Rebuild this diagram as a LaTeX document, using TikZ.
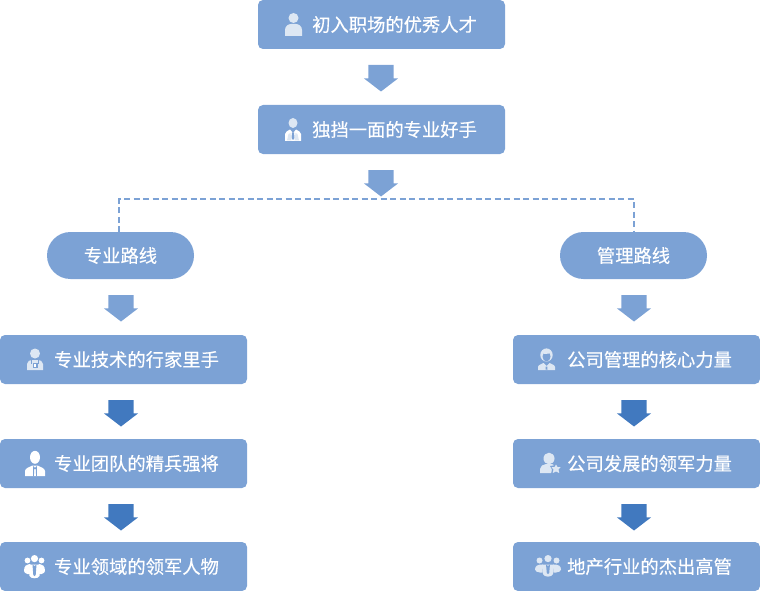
\documentclass[tikz,border=0pt]{standalone}
\usepackage{fontspec}
\setmainfont{Noto Sans CJK SC}[RawFeature={embolden=0.35}]
\usetikzlibrary{shapes.arrows}
\definecolor{boxblue}{HTML}{7CA2D5}
\definecolor{deepblue}{HTML}{4179BF}
\definecolor{iconlight}{HTML}{DDE7F3}
\tikzset{
  card/.style={fill=boxblue,draw=none,rounded corners=5pt,minimum width=247pt,minimum height=49pt,inner sep=0pt,outer sep=0pt},
  pill/.style={fill=boxblue,draw=none,rounded corners=23.5pt,minimum width=147pt,minimum height=47pt,inner sep=0pt,outer sep=0pt,text=white,font=\fontsize{18.3pt}{20pt}\selectfont},
  cardtext/.style={text=white,anchor=west,inner sep=0pt,font=\fontsize{18.3pt}{20pt}\selectfont},
  blockarrow/.style={single arrow,draw=none,fill=#1,anchor=tail,rotate=-90,minimum height=26.5pt,minimum width=34pt,single arrow head extend=4.5pt,single arrow tip angle=105,inner xsep=0pt,inner ysep=12.5pt,outer sep=0pt},
  link/.style={draw=boxblue,line width=1.6pt,dash pattern=on 6pt off 3.5pt},
  ic/.style={fill=iconlight,draw=none},
  iw/.style={fill=white,draw=none},
  cut/.style={fill=boxblue,draw=none}
}
\begin{document}
\begin{tikzpicture}[x=1pt,y=-1pt]
\useasboundingbox (0,0) rectangle (760,591);
% cards
\node[card] (a) at (381.5,24.5) {};
\node[card] (b) at (381.5,129.5) {};
\node[card] (l1) at (123.5,359.5) {};
\node[card] (l2) at (123.5,463.5) {};
\node[card] (l3) at (123.5,566.5) {};
\node[card] (r1) at (636.5,359.5) {};
\node[card] (r2) at (636.5,463.5) {};
\node[card] (r3) at (636.5,566.5) {};
\node[pill] (pl) at (120.5,255.5) {专业路线};
\node[pill] (pr) at (633.5,255.5) {管理路线};
% labels
\node[cardtext] (ta) at (312,24.5) {初入职场的优秀人才};
\node[cardtext] (tb) at (312,129.5) {独挡一面的专业好手};
\node[cardtext] (tl1) at (54,359.5) {专业技术的行家里手};
\node[cardtext] (tl2) at (54,463.5) {专业团队的精兵强将};
\node[cardtext] (tl3) at (54,566.5) {专业领域的领军人物};
\node[cardtext] (tr1) at (567,359.5) {公司管理的核心力量};
\node[cardtext] (tr2) at (567,463.5) {公司发展的领军力量};
\node[cardtext] (tr3) at (567,566.5) {地产行业的杰出高管};
% dashed connector
\coordinate (bus) at (381,199);
\draw[link] ([xshift=-1.5pt]pl.north) |- (bus) -| ([xshift=0.5pt]pr.north);
% block arrows
\node[blockarrow=boxblue] (a1) at (381,65) {};
\node[blockarrow=boxblue] (a2) at (381,170) {};
\node[blockarrow=boxblue] (a3) at (121,295) {};
\node[blockarrow=boxblue] (a4) at (634,295) {};
\node[blockarrow=deepblue] (a5) at (121,400) {};
\node[blockarrow=deepblue] (a6) at (121,504) {};
\node[blockarrow=deepblue] (a7) at (634,400) {};
\node[blockarrow=deepblue] (a8) at (634,504) {};
% icon: plain person
\begin{scope}[shift={(293.5,13)}]
\fill[ic] (0,5) circle (5);
\fill[ic] (-8.5,23) -- (-8.5,17) .. controls (-8.5,13) and (-5,11) .. (-2.5,11) -- (2.5,11) .. controls (5,11) and (8.5,13) .. (8.5,17) -- (8.5,23) -- cycle;
\end{scope}
% icon: person with open collar and tie
\begin{scope}[shift={(293,118)}]
\fill[ic] (0,5) ellipse (4.5 and 5);
\fill[iw] (-8,23) -- (-8,16) .. controls (-8,14) and (-5,12.5) .. (-3,11.5) -- (0,15) -- (3,11.5) .. controls (5,12.5) and (8,14) .. (8,16) -- (8,23) -- cycle;
\fill[cut] (-1,14.5) -- (1,14.5) -- (1.5,20) -- (0,22) -- (-1.5,20) -- cycle;
\fill[ic] (-4.5,16) -- (-2.5,15) -- (-1.5,22.5) -- (-6,22.5) -- cycle;
\fill[ic] (4.5,16) -- (2.5,15) -- (1.5,22.5) -- (6,22.5) -- cycle;
\end{scope}
% icon: person with badge
\begin{scope}[shift={(35,348)}]
\fill[ic] (0,5.5) circle (5);
\fill[ic] (-8,22) -- (-8,16) .. controls (-8,13) and (-5,12) .. (-3,12) -- (3,12) .. controls (5,12) and (8,13) .. (8,16) -- (8,22) -- cycle;
\draw[boxblue,line width=.7pt] (-3.5,12) -- (-3.5,16) (3.5,12) -- (3.5,16);
\fill[cut] (-2.5,15) rectangle (2.5,20);
\fill[iw] (-1.3,16) rectangle (1.3,19);
\end{scope}
% icon: suited person
\begin{scope}[shift={(35,451)}]
\fill[iw] (0,6.3) ellipse (5 and 6.5);
\fill[iw] (-10,25) -- (-10,20) .. controls (-10,17) and (-5,16) .. (-2.5,14.5) -- (2.5,14.5) .. controls (5,16) and (10,17) .. (10,20) -- (10,25) -- cycle;
\fill[cut] (-1.8,15) -- (0,17) -- (1.8,15) -- (1.8,25) -- (1.1,25) -- (.8,18) -- (-.8,18) -- (-1.1,25) -- (-1.8,25) -- cycle;
\end{scope}
% icon: three people (white)
\begin{scope}[shift={(34.5,555)}]
\fill[iw] (0,3.6) circle (3.6);
\fill[iw] (-7,5.5) circle (2.9);
\fill[iw] (7,5.5) circle (2.9);
\fill[iw] (-10.5,16) .. controls (-10.5,11) and (-8,9) .. (-5,9) -- (-4,9) -- (-4.5,19) -- (-7,19) .. controls (-9,18) and (-10.5,18) .. (-10.5,16) -- cycle;
\fill[iw] (10.5,16) .. controls (10.5,11) and (8,9) .. (5,9) -- (4,9) -- (4.5,19) -- (7,19) .. controls (9,18) and (10.5,18) .. (10.5,16) -- cycle;
\fill[iw] (-6,9.5) -- (6,9.5) -- (5,21) .. controls (4,24) and (-4,24) .. (-5,21) -- cycle;
\fill[cut] (-2,9.5) -- (0,11) -- (2,9.5) -- (1.2,20) -- (0,21) -- (-1.2,20) -- cycle;
\end{scope}
% icon: person outline with short hair
\begin{scope}[shift={(546.5,349)}]
\fill[ic] (0,6) ellipse (6.2 and 6.6);
\fill[cut] (0,7.5) ellipse (4 and 5);
\fill[ic] (-4,4.5) .. controls (-2,5) and (2,5) .. (4,4) -- (4,2) -- (-4,2) -- cycle;
\fill[ic] (-8.5,21) -- (-8.5,18) .. controls (-8.5,16) and (-5,15) .. (-3,14) -- (0,17) -- (3,14) .. controls (5,15) and (8.5,16) .. (8.5,18) -- (8.5,21) -- cycle;
\fill[cut] (-.8,17.5) -- (.8,17.5) -- (1,20.5) -- (-1,20.5) -- cycle;
\end{scope}
% icon: person with star
\begin{scope}[shift={(540,453)}]
\fill[ic] (9,5.5) ellipse (5.5 and 5.8);
\fill[ic] (0,20) -- (0,16) .. controls (0,13) and (3,11.5) .. (6,11) -- (12,11) .. controls (14,11.5) and (16,13) .. (17,15) -- (17,20) -- cycle;
\fill[cut] (16,9.5) -- (18.5,12.5) -- (22,13) -- (20,16.5) -- (21,21) -- (16,21) -- (11,21) -- (12,16.5) -- (10,13) -- (13.5,12.5) -- cycle;
\fill[ic] (16,11.5) -- (17.5,14) -- (20.5,14.2) -- (18.5,16.5) -- (19.3,20) -- (16,18.5) -- (12.7,20) -- (13.5,16.5) -- (11.5,14.2) -- (14.5,14) -- cycle;
\end{scope}
% icon: three people (light)
\begin{scope}[shift={(548,555)}]
\fill[ic] (0,3.6) circle (3.6);
\fill[ic] (-8.5,5.5) circle (3);
\fill[ic] (8.5,5.5) circle (3);
\fill[ic] (-13,14.5) .. controls (-13,11) and (-10,9.5) .. (-8,9.5) -- (-5,9.5) -- (-5.5,17.5) -- (-8,17.5) .. controls (-11,17) and (-13,16.5) .. (-13,14.5) -- cycle;
\fill[ic] (13,14.5) .. controls (13,11) and (10,9.5) .. (8,9.5) -- (5,9.5) -- (5.5,17.5) -- (8,17.5) .. controls (11,17) and (13,16.5) .. (13,14.5) -- cycle;
\fill[ic] (-6,9.5) -- (6,9.5) -- (5,19) .. controls (4,22.5) and (-4,22.5) .. (-5,19) -- cycle;
\fill[cut] (-2,9.5) -- (0,11) -- (2,9.5) -- (1.2,18) -- (0,19) -- (-1.2,18) -- cycle;
\end{scope}
\end{tikzpicture}
\end{document}
